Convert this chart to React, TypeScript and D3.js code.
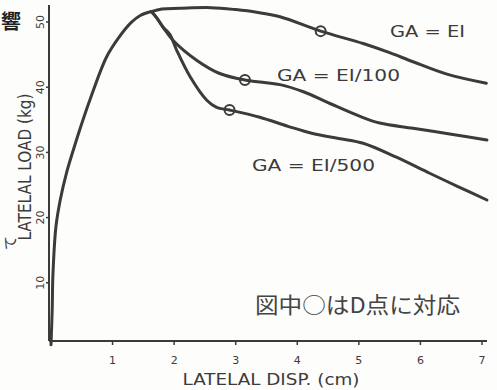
import React from 'react';
import * as d3 from 'd3';

// displacement (cm), load (kg)
const riseCurve: [number, number][] = [
  [0, 0.5], [0.02, 6], [0.03, 10.9], [0.08, 18.6], [0.15, 22.7], [0.25, 26.8], [0.36, 30.3],
  [0.52, 35], [0.63, 38], [0.9, 44.6], [1.1, 47.6], [1.3, 49.9], [1.45, 51], [1.63, 51.6],
];
const curveEI: [number, number][] = [
  [1.63, 51.6], [1.8, 52], [2.09, 52.1], [2.6, 52.2], [3.0, 51.9], [3.34, 51.5], [3.72, 50.8],
  [4.38, 48.6], [5.07, 46.7], [5.5, 45.3], [5.88, 43.9], [6.43, 42], [7.07, 40.6],
];
const curveEI100: [number, number][] = [
  [1.63, 51.6], [1.72, 50.6], [1.82, 49.2], [1.98, 47.2], [2.37, 44.1], [2.74, 42.1], [3.15, 41.1],
  [3.39, 40.8], [3.72, 40.4], [4.1, 39.3], [4.53, 37.5], [5.0, 35.6], [5.34, 34.5], [5.88, 33.7],
  [6.5, 32.8], [7.08, 31.9],
];
const curveEI500: [number, number][] = [
  [1.63, 51.6], [1.72, 50.6], [1.82, 49.2], [1.93, 48.1], [2.04, 45.7], [2.26, 41.6], [2.53, 38],
  [2.69, 36.9], [2.9, 36.5], [3.39, 35.4], [3.85, 34], [4.25, 32.9], [4.7, 32.1], [5.07, 31.4],
  [5.6, 29.3], [6.15, 26.8], [6.6, 24.8], [7.08, 22.7],
];
// "D point" markers
const dPoints: [number, number][] = [[4.38, 48.6], [3.15, 41.1], [2.9, 36.5]];

const xTicks = [1, 2, 3, 4, 5, 6, 7];
const yTicks = [10, 20, 30, 40, 50];

const INK = '#3b3b3b';
const FONT = '"DejaVu Sans", sans-serif';

export default function App() {
  const W = 497, H = 390;
  const x = d3.scaleLinear().domain([0, 7]).range([51, 482]);
  const y = d3.scaleLinear().domain([0, 50]).range([348, 22]);
  const axisX = 49, axisY = 341;

  const line = d3.line<[number, number]>()
    .x(d => x(d[0]))
    .y(d => y(d[1]))
    .curve(d3.curveCatmullRom.alpha(0.5));

  const curves = [riseCurve, curveEI, curveEI100, curveEI500];

  return (
    <svg width={W} height={H} style={{ position: 'absolute', left: 0, top: 0, background: '#fdfdfb' }}>
      {/* stray characters from the scanned page */}
      <text x={11} y={29} fontSize={20} fontWeight="bold" textAnchor="middle"
        fontFamily='"Noto Sans CJK JP", sans-serif' fill="#222">響</text>
      <text transform="translate(9,243) rotate(-90)" fontSize={14} textAnchor="middle"
        dominantBaseline="central" fontFamily='"Noto Sans CJK JP", sans-serif' fill="#333">て</text>

      {/* axes */}
      <line x1={axisX} y1={5} x2={axisX} y2={axisY} stroke={INK} strokeWidth={2} />
      <line x1={axisX} y1={axisY} x2={487} y2={axisY} stroke={INK} strokeWidth={2} />
      {xTicks.map(t => (
        <g key={t}>
          <line x1={x(t)} x2={x(t)} y1={axisY} y2={axisY + 4} stroke={INK} strokeWidth={1.5} />
          <text x={x(t)} y={364} fontSize={11} textAnchor="middle" fontFamily={FONT} fill={INK}>{t}</text>
        </g>
      ))}
      {yTicks.map(t => (
        <g key={t}>
          <line x1={axisX - 3} x2={axisX} y1={y(t)} y2={y(t)} stroke={INK} strokeWidth={1.5} />
          <text transform={`translate(40,${y(t)}) rotate(-90)`} fontSize={11} textAnchor="middle"
            dominantBaseline="central" fontFamily={FONT} fill={INK}>{t}</text>
        </g>
      ))}

      <text x={271} y={385} fontSize={16} textLength={177} lengthAdjust="spacingAndGlyphs"
        textAnchor="middle" fontFamily={FONT} fill={INK}>LATELAL DISP. (cm)</text>
      <text transform="translate(31,167) rotate(-90)" fontSize={17} textLength={147}
        lengthAdjust="spacingAndGlyphs" textAnchor="middle" fontFamily={FONT} fill={INK}>LATELAL LOAD (kg)</text>

      {/* curves */}
      {curves.map((c, i) => (
        <path key={i} d={line(c) || ''} fill="none" stroke={INK} strokeWidth={3}
          strokeLinejoin="round" strokeLinecap="round" />
      ))}
      {dPoints.map((p, i) => (
        <circle key={i} cx={x(p[0])} cy={y(p[1])} r={5} fill="none" stroke={INK} strokeWidth={2} />
      ))}

      {/* labels */}
      <text x={390} y={37} fontSize={16} textLength={75} lengthAdjust="spacingAndGlyphs"
        fontFamily={FONT} fill={INK}>GA = EI</text>
      <text x={277} y={81} fontSize={16} textLength={123} lengthAdjust="spacingAndGlyphs"
        fontFamily={FONT} fill={INK}>GA = EI/100</text>
      <text x={252} y={171} fontSize={16} textLength={123} lengthAdjust="spacingAndGlyphs"
        fontFamily={FONT} fill={INK}>GA = EI/500</text>
      <text x={255} y={313} fontSize={22} textLength={205} lengthAdjust="spacingAndGlyphs"
        fontFamily='"Noto Sans CJK JP", sans-serif' fill="#444">図中○はD点に対応</text>
    </svg>
  );
}
